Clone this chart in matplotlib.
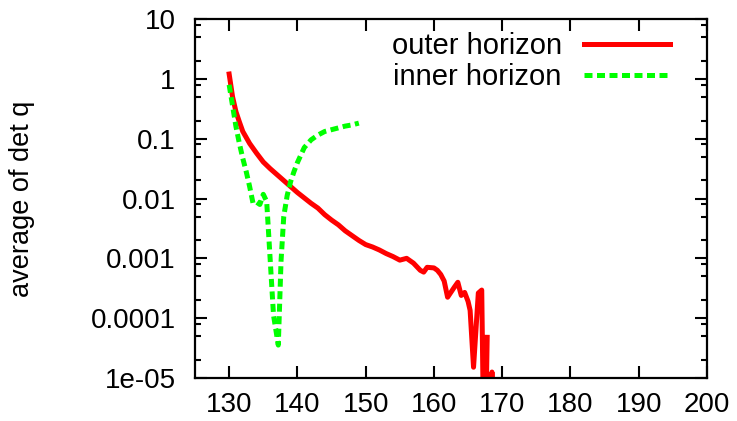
import numpy as np
import matplotlib.pyplot as plt
from matplotlib.ticker import FixedLocator, FixedFormatter, NullLocator

plt.rcParams['font.family'] = ['Liberation Sans', 'DejaVu Sans']

# outer horizon (red): x and log10 of the value
outer_x = [130.0, 130.5, 131.0, 131.5, 132.0, 133.0, 134.0, 135.0, 136.0, 137.0,
           138.0, 139.0, 140.0, 141.0, 142.0, 143.0, 144.0, 145.0, 146.0, 147.0,
           148.0, 149.0, 150.0, 151.0, 152.0, 153.0, 154.0, 155.0, 156.0, 157.0,
           158.0, 158.5, 159.0, 160.0, 160.5, 161.0, 161.5, 162.0, 163.0, 163.5,
           164.0, 164.5, 165.0, 165.3, 165.8, 166.5, 167.0, 167.4, 167.8, np.nan,
           168.1, 168.5, 168.9]
outer_log = [0.08, -0.30, -0.55, -0.72, -0.88, -1.08, -1.24, -1.39, -1.50, -1.60,
             -1.70, -1.80, -1.90, -1.99, -2.08, -2.16, -2.27, -2.36, -2.44, -2.54,
             -2.62, -2.70, -2.77, -2.81, -2.86, -2.92, -2.97, -3.03, -3.00, -3.08,
             -3.20, -3.23, -3.15, -3.16, -3.20, -3.27, -3.38, -3.65, -3.48, -3.40,
             -3.62, -3.57, -3.72, -3.87, -4.82, -3.58, -3.53, -7.0, -4.32, np.nan,
             -7.0, -4.90, -7.0]

# inner horizon (green)
inner_x = [130.0, 130.5, 131.0, 131.5, 132.0, 132.5, 133.0, 133.5, 134.0, 134.5,
           135.0, 135.5, 136.0, 136.5, 137.2, 137.6, 138.0, 138.5, 139.0, 139.5,
           140.0, 141.0, 142.0, 143.0, 144.0, 145.0, 146.0, 147.0, 148.0, 149.0]
inner_log = [-0.10, -0.45, -0.80, -1.08, -1.33, -1.55, -1.80, -2.08, -2.06, -2.10,
             -1.93, -2.05, -3.00, -3.95, -4.45, -3.05, -2.30, -1.95, -1.72, -1.55,
             -1.40, -1.15, -1.02, -0.94, -0.88, -0.85, -0.82, -0.79, -0.77, -0.74]

xticks = [130, 140, 150, 160, 170, 180, 190, 200]
yticks = [1e1, 1e0, 1e-1, 1e-2, 1e-3, 1e-4, 1e-5]
ytick_labels = ['10', '1', '0.1', '0.01', '0.001', '0.0001', '1e-05']

fig = plt.figure(figsize=(7.37, 4.21), dpi=100)
ax = fig.add_axes([0.2646, 0.1021, 0.6947, 0.8528])

ax.plot(outer_x, 10.0 ** np.array(outer_log), color='#ff0000', lw=3.6,
        label='outer horizon')
ax.plot(inner_x, 10.0 ** np.array(inner_log), color='#00ff00', lw=3.6,
        dashes=(1.6, 0.9), label='inner horizon')

ax.set_yscale('log')
ax.set_xlim(125, 200)
ax.set_ylim(1e-5, 10)

ax.xaxis.set_major_locator(FixedLocator(xticks))
ax.xaxis.set_minor_locator(NullLocator())
ax.yaxis.set_major_locator(FixedLocator(yticks))
ax.yaxis.set_major_formatter(FixedFormatter(ytick_labels))
minors = [m * d for d in yticks[1:] for m in (2, 5, 8)]
ax.yaxis.set_minor_locator(FixedLocator(minors))

ax.tick_params(which='both', direction='in', top=True, right=True,
               labelsize=20, width=1.5)
ax.tick_params(which='major', length=8.5)
ax.tick_params(which='minor', length=4.3)
ax.tick_params(axis='x', pad=10)
ax.tick_params(axis='y', pad=14)
for s in ax.spines.values():
    s.set_linewidth(1.6)

ax.set_ylabel('average of det q', fontsize=19.5, labelpad=40)
ax.legend(loc='upper right', frameon=False, fontsize=21, markerfirst=False,
          handlelength=2.95, labelspacing=0.1, handletextpad=0.75,
          borderpad=0.3, bbox_to_anchor=(0.95, 0.995), borderaxespad=0.1)

fig.savefig('out.png', dpi=100)
